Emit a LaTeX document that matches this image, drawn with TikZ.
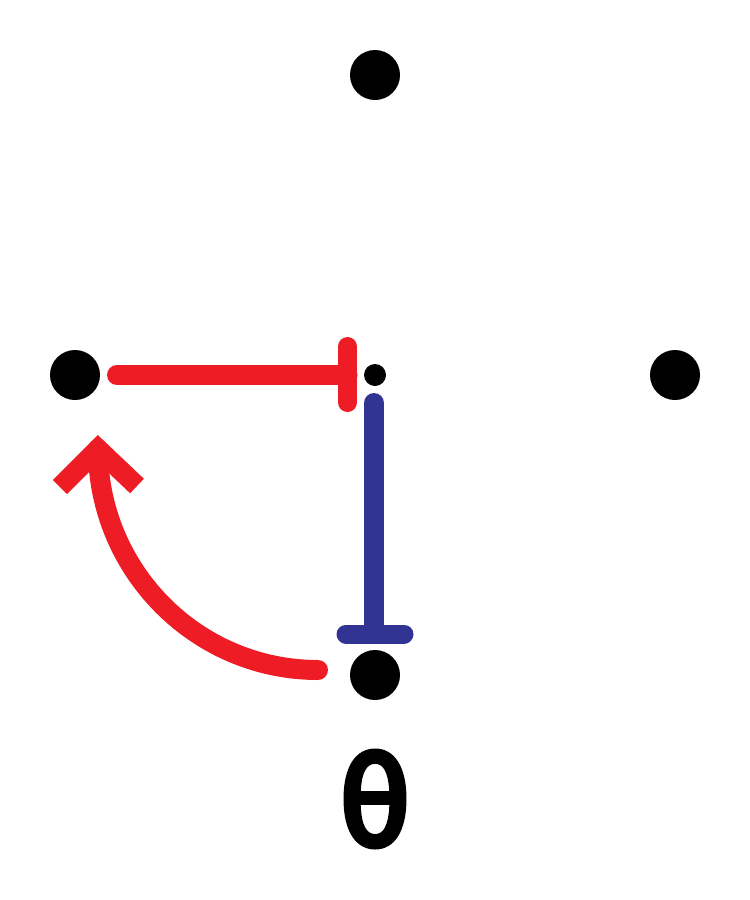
\documentclass[tikz,border=0pt]{standalone}
\usepackage{graphicx}
\usepackage{fontspec}
\newfontfamily\fbb{Carlito}[FakeBold=1.3]
\definecolor{myred}{RGB}{238,28,37}
\definecolor{myblue}{RGB}{50,52,148}
\begin{document}
\begin{tikzpicture}[x=1pt,y=-1pt,
  bigdot/.style={circle,fill=black,inner sep=0pt,minimum size=50pt},
  smalldot/.style={circle,fill=black,inner sep=0pt,minimum size=22pt},
  redline/.style={draw=myred,line width=20pt,line cap=round},
  blueline/.style={draw=myblue,line width=20pt,line cap=round},
  tbar/.style={line width=19pt,line cap=round}]
\useasboundingbox (0,0) rectangle (750,900);
\node[bigdot] (top) at (375,75) {};
\node[bigdot] (left) at (75,375) {};
\node[bigdot] (right) at (675,375) {};
\node[bigdot] (bottom) at (375,675) {};
\node[smalldot] (center) at (375,375) {};
% red inhibition line
\coordinate (rs) at (117,375);
\coordinate (re) at (347.5,375);
\coordinate (rt1) at (347.5,346.5);
\coordinate (rt2) at (347.5,402.5);
\draw[redline] (rs) -- (re);
\draw[redline,tbar] (rt1) -- (rt2);
% blue inhibition line
\coordinate (bs) at (374,403);
\coordinate (be) at (374,634);
\coordinate (bt1) at (346,634);
\coordinate (bt2) at (404,634);
\draw[blueline] (bs) -- (be);
\draw[blueline,tbar] (bt1) -- (bt2);
% red curved arrow
\coordinate (as) at (318,670);
\coordinate (ae) at (98,449);
\coordinate (al) at (60,487);
\coordinate (ar) at (137,486);
\draw[redline] (as) .. controls (196,670) and (98,570) .. (ae);
\draw[draw=myred,line width=20pt,line cap=butt,line join=miter] (al) -- (ae) -- (ar);
% theta
\node[inner sep=0pt] (theta) at (375,799) {\scalebox{0.9}[1]{\fbb\bfseries\fontsize{142}{142}\selectfont θ}};
\end{tikzpicture}
\end{document}
